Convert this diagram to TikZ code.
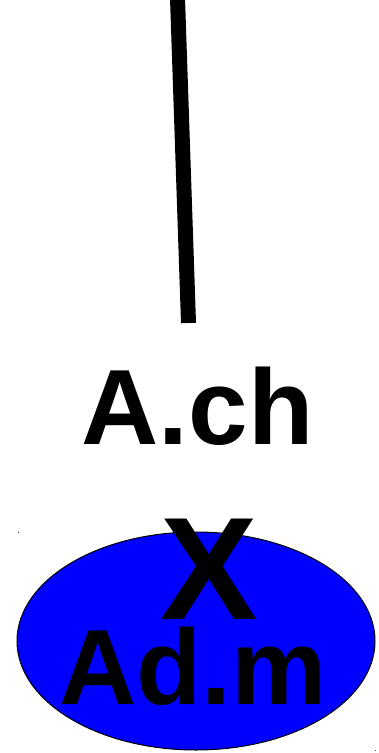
\documentclass[tikz,border=0pt]{standalone}
\usepackage{fontspec}
\setmainfont{Liberation Sans}
\usetikzlibrary{shapes.geometric}
\begin{document}
\begin{tikzpicture}[x=1pt,y=-1pt,
  bigtext/.style={anchor=base,inner sep=0pt,font=\bfseries\fontsize{107}{107}\selectfont},
  xtext/.style={anchor=base,inner sep=0pt,font=\bfseries\fontsize{146}{146}\selectfont},
  blob/.style={ellipse,draw=black,line width=1pt,fill=blue,minimum width=358pt,minimum height=218pt,inner sep=0pt},
  stick/.style={line width=15pt,line cap=butt}]
\useasboundingbox (0,0) rectangle (379,753);
\coordinate (top) at (177.5,-2);
\coordinate (bot) at (188.5,323);
\draw[stick] (top) -- (bot);
\node[bigtext] (ach) at (197.5,444) {A.ch};
\node[blob] (ell) at (196,641) {};
\node[xtext] (x) at (209.5,619) {X};
\node[bigtext] (adm) at (193,704) {Ad.m};
\fill[black!70] (17.5,531.5) rectangle (18.5,532.5);
\fill[black!70] (374.5,749.5) rectangle (375.5,750.5);
\end{tikzpicture}
\end{document}
